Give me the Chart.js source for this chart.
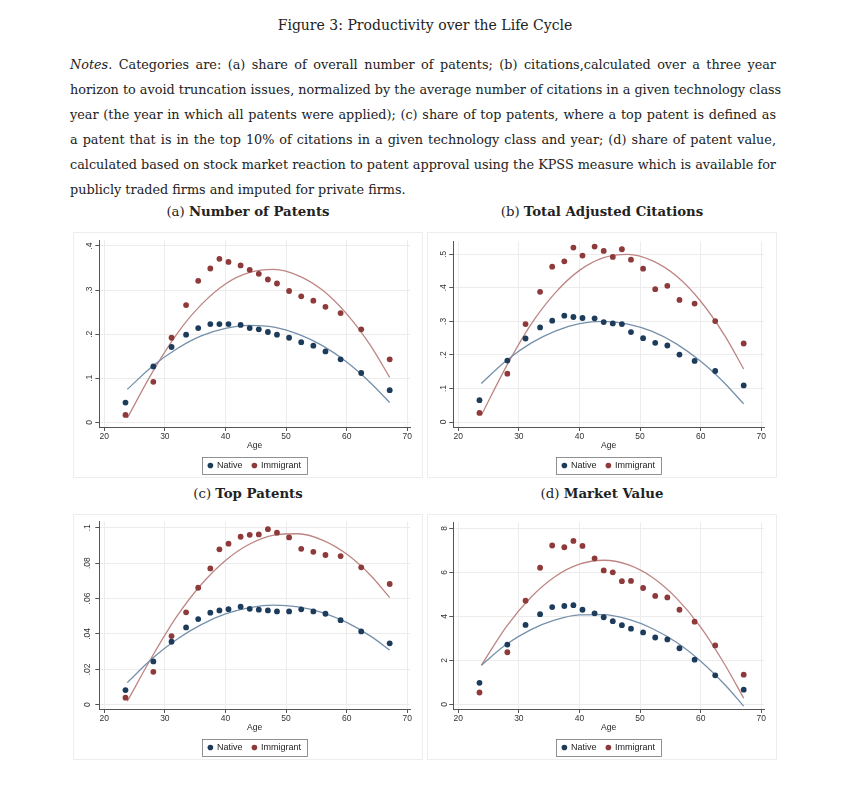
<!DOCTYPE html>
<html>
<head>
<meta charset="utf-8">
<script src="https://cdn.jsdelivr.net/npm/chart.js@4.4.0/dist/chart.umd.min.js"></script>
<style>
  body { margin: 0; background: #fff; width: 850px; height: 794px; position: relative; overflow: hidden;
         font-family: "DejaVu Serif", "Liberation Serif", serif; color: #222; }
  .title { position: absolute; top: 15px; left: 0; width: 850px; text-align: center; font-size: 14px; line-height: 20px; }
  .notes { position: absolute; left: 70px; top: 51.5px; width: 706px; font-size: 12.8px; line-height: 25px; }
  .notes div { text-align: justify; text-align-last: justify; white-space: nowrap; }
  .notes div.last { text-align-last: left; }
  .ptitle { position: absolute; width: 350px; text-align: center; font-size: 13.3px; line-height: 18px; }
  .panel { position: absolute; width: 350px; height: 246px; border: 1px solid #eeeeee; box-sizing: border-box; }
  .panel canvas { position: absolute; left: -1px; top: -1px; }
</style>
</head>
<body>
<div class="title">Figure 3: Productivity over the Life Cycle</div>
<div class="notes">
  <div><i>Notes.</i> Categories are: (a) share of overall number of patents; (b) citations,calculated over a three year</div>
  <div>horizon to avoid truncation issues, normalized by the average number of citations in a given technology class</div>
  <div>year (the year in which all patents were applied); (c) share of top patents, where a top patent is defined as</div>
  <div>a patent that is in the top 10% of citations in a given technology class and year; (d) share of patent value,</div>
  <div>calculated based on stock market reaction to patent approval using the KPSS measure which is available for</div>
  <div class="last">publicly traded firms and imputed for private firms.</div>
</div>

<div class="ptitle" style="left:73px; top:203px;">(a) <b>Number of Patents</b></div>
<div class="ptitle" style="left:427px; top:203px;">(b) <b>Total Adjusted Citations</b></div>
<div class="ptitle" style="left:73px; top:485px;">(c) <b>Top Patents</b></div>
<div class="ptitle" style="left:427px; top:485px;">(d) <b>Market Value</b></div>

<div class="panel" style="left:73px; top:232px;"><canvas id="pa" width="350" height="250"></canvas></div>
<div class="panel" style="left:427px; top:232px;"><canvas id="pb" width="350" height="250"></canvas></div>
<div class="panel" style="left:73px; top:514px;"><canvas id="pc" width="350" height="250"></canvas></div>
<div class="panel" style="left:427px; top:514px;"><canvas id="pd" width="350" height="250"></canvas></div>

<script>
// age bins (midpoints), shared by all panels
const ages = [23.5, 28.1, 31.1, 33.5, 35.5, 37.5, 39, 40.5, 42.5, 44, 45.5, 47, 48.5, 50.5, 52.5, 54.5, 56.5, 59, 62.4, 67.1];
const xTicks = [20, 30, 40, 50, 60, 70];

// (a) number of patents
const nativeA = [.045, .127, .171, .199, .214, .223, .223, .223, .221, .214, .211, .205, .199, .192, .182, .174, .161, .143, .112, .073];
const immigA  = [.017, .092, .192, .266, .321, .349, .371, .364, .356, .346, .337, .324, .315, .298, .286, .276, .262, .248, .211, .143];
// (b) total adjusted citations
const nativeB = [.065, .183, .249, .282, .302, .317, .313, .310, .309, .298, .294, .292, .268, .250, .236, .228, .201, .182, .152, .109];
const immigB  = [.027, .144, .292, .388, .463, .479, .520, .496, .523, .510, .492, .515, .484, .457, .396, .406, .364, .353, .301, .234];
// (c) top patents
const nativeC = [.0083, .0245, .0356, .0437, .0484, .0520, .0533, .0540, .0554, .0542, .0537, .0533, .0527, .0527, .0539, .0527, .0514, .0478, .0414, .0347];
const immigC  = [.0040, .0186, .0388, .0522, .0661, .0770, .0878, .0910, .0949, .0960, .0962, .0992, .0972, .0945, .0881, .0864, .0846, .0840, .0776, .0682];
// (d) market value
const nativeD = [.98, 2.72, 3.61, 4.10, 4.42, 4.47, 4.51, 4.30, 4.14, 3.96, 3.78, 3.60, 3.44, 3.27, 3.04, 2.95, 2.55, 2.03, 1.32, .67];
const immigD  = [.54, 2.37, 4.71, 6.21, 7.22, 7.14, 7.43, 7.20, 6.64, 6.09, 6.00, 5.60, 5.61, 5.29, 4.93, 4.86, 4.30, 3.76, 2.68, 1.35];

// quadratic fit lines
const fitAges = [23.8, 28, 32, 36, 40, 44, 48, 52, 56, 60, 64, 67.1];
const fitNativeA = [.075, .128, .167, .196, .213, .220, .216, .200, .174, .137, .089, .045];
const fitImmigA  = [.010, .115, .201, .267, .314, .340, .347, .333, .300, .246, .173, .102];
const fitNativeB = [.115, .184, .235, .271, .293, .300, .292, .270, .233, .181, .115, .054];
const fitImmigB  = [.020, .168, .291, .385, .452, .490, .500, .481, .435, .360, .257, .158];
const fitNativeC = [.0125, .0264, .0370, .0453, .0513, .0549, .0563, .0553, .0521, .0465, .0386, .0309];
const fitImmigC  = [.0020, .0278, .0500, .0679, .0815, .0908, .0958, .0966, .0930, .0851, .0729, .0605];
const fitNativeD = [1.78, 2.74, 3.40, 3.84, 4.07, 4.08, 3.87, 3.45, 2.82, 1.96, .89, -.08];
const fitImmigD  = [1.77, 3.56, 4.87, 5.81, 6.37, 6.55, 6.35, 5.78, 4.83, 3.51, 1.80, .28];

const yTicksA = [0, .1, .2, .3, .4],          yLabelsA = ['0', '.1', '.2', '.3', '.4'];
const yTicksB = [0, .1, .2, .3, .4, .5],      yLabelsB = ['0', '.1', '.2', '.3', '.4', '.5'];
const yTicksC = [0, .02, .04, .06, .08, .1],  yLabelsC = ['0', '.02', '.04', '.06', '.08', '.1'];
const yTicksD = [0, 2, 4, 6, 8],              yLabelsD = ['0', '2', '4', '6', '8'];

const navy = '#1d3c5c', maroon = '#8e3a3a';
const navyLine = '#7590ab', maroonLine = '#bd8583';
const axisFont = { family: 'Liberation Sans, Arial, sans-serif', size: 8.5 };
const legendFont = { family: 'Liberation Sans, Arial, sans-serif', size: 9 };

function pts(xs, ys) {
  return xs.map((x, i) => ({ x: x, y: ys[i] }));
}

// box round the legend, as Stata draws it
const legendBorder = {
  id: 'legendBorder',
  afterDraw(chart) {
    const boxes = chart.legend.legendHitBoxes;
    if (!boxes || !boxes.length) return;
    const left = Math.min(...boxes.map(b => b.left)) - 6;
    const right = Math.max(...boxes.map(b => b.left + b.width)) + 6;
    const top = boxes[0].top - 4;
    const h = boxes[0].height + 8;
    const ctx = chart.ctx;
    ctx.save();
    ctx.strokeStyle = '#777';
    ctx.lineWidth = 0.8;
    ctx.strokeRect(Math.round(left) + .5, Math.round(top) + .5, Math.round(right - left), Math.round(h));
    ctx.restore();
  }
};

function makePanel(id, nat, imm, fitN, fitI, yMin, yMax, yTicks, yLabels, padTop) {
  new Chart(document.getElementById(id), {
    type: 'scatter',
    data: {
      datasets: [
        { label: 'Native', data: pts(ages, nat), backgroundColor: navy, borderColor: navy,
          pointRadius: 2.9, pointBorderWidth: 0 },
        { label: 'Immigrant', data: pts(ages, imm), backgroundColor: maroon, borderColor: maroon,
          pointRadius: 2.9, pointBorderWidth: 0 },
        { label: 'fitN', type: 'line', data: pts(fitAges, fitN), borderColor: navyLine, borderWidth: 1.3,
          pointRadius: 0, cubicInterpolationMode: 'monotone', fill: false },
        { label: 'fitI', type: 'line', data: pts(fitAges, fitI), borderColor: maroonLine, borderWidth: 1.3,
          pointRadius: 0, cubicInterpolationMode: 'monotone', fill: false }
      ]
    },
    options: {
      responsive: false,
      animation: false,
      layout: { padding: { top: padTop, right: 13, bottom: 2, left: 0 } },
      plugins: {
        tooltip: { enabled: false },
        legend: {
          position: 'bottom',
          fullSize: false,
          labels: {
            filter: item => item.datasetIndex < 2,
            usePointStyle: true, pointStyle: 'circle',
            boxWidth: 4, boxHeight: 4, padding: 10,
            color: '#222', font: legendFont
          }
        }
      },
      scales: {
        x: {
          type: 'linear', min: 19.18, max: 70.45,
          afterBuildTicks: s => { s.ticks = xTicks.map(v => ({ value: v })); },
          afterFit: s => { s.height = 24; },
          ticks: { color: '#333', font: axisFont, padding: 1, maxRotation: 0, autoSkip: false },
          grid: { color: '#ececec', lineWidth: 1, tickColor: '#555', tickLength: 4 },
          border: { color: '#555', width: 1 },
          title: { display: true, text: 'Age', color: '#222', font: axisFont, padding: { top: 2, bottom: 0 } }
        },
        y: {
          type: 'linear', min: yMin, max: yMax,
          afterBuildTicks: s => { s.ticks = yTicks.map(v => ({ value: v })); },
          afterFit: s => { s.width = 26.3; },
          ticks: {
            color: '#333', font: axisFont, padding: 2, autoSkip: false,
            minRotation: 90, maxRotation: 90, crossAlign: 'center',
            callback: (v) => { const i = yTicks.indexOf(v); return i >= 0 ? yLabels[i] : ''; }
          },
          grid: { color: '#ececec', lineWidth: 1, tickColor: '#555', tickLength: 4 },
          border: { color: '#555', width: 1 }
        }
      }
    },
    plugins: [legendBorder]
  });
}

makePanel('pa', nativeA, immigA, fitNativeA, fitImmigA, -0.0104, 0.4136, yTicksA, yLabelsA, 8);
makePanel('pb', nativeB, immigB, fitNativeB, fitImmigB, -0.0149, 0.5375, yTicksB, yLabelsB, 9.7);
makePanel('pc', nativeC, immigC, fitNativeC, fitImmigC, -0.0024, 0.1034, yTicksC, yLabelsC, 7.7);
makePanel('pd', nativeD, immigD, fitNativeD, fitImmigD, -0.21, 8.275, yTicksD, yLabelsD, 8.3);
</script>
</body>
</html>
